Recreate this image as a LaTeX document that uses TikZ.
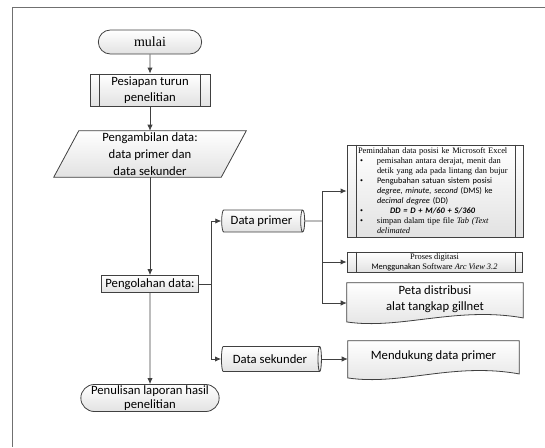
\documentclass[tikz,border=0pt]{standalone}
\usepackage{fontspec}
\setmainfont{Liberation Serif}
\setsansfont{Carlito}
\usetikzlibrary{shapes.geometric,shapes.misc,arrows.meta,backgrounds}

\definecolor{garisabu}{HTML}{404040}
\definecolor{isiabu}{HTML}{E2E2E2}
\definecolor{bingkaiabu}{HTML}{707070}

\newcommand{\sedang}{\sffamily\fontsize{9.5}{12}\selectfont}
\newcommand{\kecil}{\rmfamily\fontsize{6.3}{7.5}\selectfont}
\newcommand{\bul}{\hspace*{1.5pt}\makebox[12.75pt][l]{\textbullet}}
\newcommand{\ind}{\hspace*{14.25pt}}
% bentuk dokumen dengan sisi bawah bergelombang
\newcommand{\dokumen}[1]{%
  \begin{scope}[on background layer]
  \draw[isi] (#1.north west) -- (#1.north east) -- ([yshift=-2pt]#1.south east)
    .. controls ([xshift=-50pt,yshift=7pt]#1.south east)
    and ([xshift=40pt,yshift=-11pt]#1.south west) .. ([yshift=-5pt]#1.south west) -- cycle;
  \end{scope}}
% jajaran genjang untuk input data
\newcommand{\genjang}[1]{%
  \begin{scope}[on background layer]
  \draw[isi] ([xshift=9.4pt]#1.north west) -- ([xshift=9.4pt]#1.north east)
    -- ([xshift=-9.4pt]#1.south east) -- ([xshift=-9.4pt]#1.south west) -- cycle;
  \end{scope}}

\tikzset{
  garis/.style={draw=garisabu, line width=0.6pt},
  isi/.style={garis, top color=white, bottom color=isiabu},
  terminal/.style={isi, rounded rectangle, inner sep=1pt},
  kotak/.style={isi, rectangle, inner sep=1pt, font=\sedang, align=center},
  tabung/.style={isi, cylinder, aspect=0.3, inner sep=1pt, font=\sedang},
  teks/.style={inner sep=1pt, font=\sedang, align=center},
  panah/.style={garis, -{Latex[length=4.5pt,width=4pt]}},
  bingkai/.style={draw=bingkaiabu, line width=0.7pt}
}

\begin{document}
\begin{tikzpicture}[x=0.75pt,y=-0.75pt]
\useasboundingbox (0,0) rectangle (545,447);
\draw[bingkai] (545,7) -- (12,7) -- (12,447);

% alur utama
\node[terminal, minimum width=79.5pt, minimum height=18pt,
  font=\rmfamily\fontsize{10.5}{12}\selectfont] (mulai) at (150,42) {mulai};
\node[kotak, minimum width=90pt, minimum height=24pt] (siap) at (150,90) {Pesiapan turun\\penelitian};
\draw[garis] ([xshift=7.5pt]siap.north west) -- ([xshift=7.5pt]siap.south west);
\draw[garis] ([xshift=-7.5pt]siap.north east) -- ([xshift=-7.5pt]siap.south east);
\node[teks, minimum width=125.25pt, minimum height=34.5pt, font=\sffamily\fontsize{9.5}{12.5}\selectfont]
  (ambil) at (150,154) {Pengambilan data:\\data primer dan\\data sekunder};
\genjang{ambil}
\node[kotak, minimum width=72.75pt, minimum height=12.75pt] (olah) at (150,284) {Pengolahan data:};
\node[terminal, minimum width=105.75pt, minimum height=20.25pt, font=\sffamily\fontsize{9.5}{10}\selectfont,
  align=center] (tulis) at (150,398) {Penulisan laporan hasil\\penelitian};

\draw[panah] (mulai) -- (siap);
\draw[panah] (siap) -- (ambil);
\draw[panah] (ambil) -- (olah);
\draw[panah] (olah) -- (tulis);

% cabang data
\node[tabung, minimum height=62.25pt, minimum width=16.5pt] (primer) at (261.5,221) {Data primer};
\node[tabung, minimum height=75pt, minimum width=18.75pt] (sekunder) at (270,359) {Data sekunder};
\coordinate (cab) at (211,284);
\draw[garis] (olah.east) -- (cab);
\draw[panah] (cab) |- (primer.west);
\draw[panah] (cab) |- (sekunder.west);

% hasil data primer
\node[isi, rectangle, minimum width=132pt, minimum height=69pt, inner xsep=8.25pt, inner ysep=1pt,
  text width=115.5pt, align=left, font=\kecil] (excel) at (435,191)
  {Pemindahan data posisi ke Microsoft Excel\\
   \bul pemisahan antara derajat, menit dan\\
   \ind detik yang ada pada lintang dan bujur\\
   \bul {\sffamily Pengubahan satuan sistem posisi}\\
   \ind {\sffamily\itshape degree, minute, second} {\sffamily(DMS) ke}\\
   \ind {\sffamily\itshape decimal degree}\ {\sffamily (DD)}\\
   \bul\hspace*{9.75pt}{\sffamily\bfseries\itshape DD = D + M/60 + S/360}\\
   \bul simpan dalam tipe file \textit{Tab (Text}\\
   \ind\textit{delimated}};
\draw[garis] ([xshift=7.5pt]excel.north west) -- ([xshift=7.5pt]excel.south west);
\draw[garis] ([xshift=-6pt]excel.north east) -- ([xshift=-6pt]excel.south east);

\node[kotak, minimum width=131.25pt, minimum height=15pt, font=\kecil] (digit) at (434.5,262)
  {Proses digitasi\\{\sffamily Menggunakan} Software \textit{Arc View 3.2}};
\draw[garis] ([xshift=7.5pt]digit.north west) -- ([xshift=7.5pt]digit.south west);
\draw[garis] ([xshift=-5.25pt]digit.north east) -- ([xshift=-5.25pt]digit.south east);

\node[teks, minimum width=132pt, minimum height=24pt] (peta) at (435,299)
  {Peta distribusi\\alat tangkap gillnet};
\dokumen{peta}

\coordinate (cab2) at (322,221);
\draw[garis] (primer.east) -- (cab2);
\draw[panah] (cab2) |- (excel.west);
\draw[panah] (cab2) |- (digit.west);
\draw[panah] (cab2) |- ([yshift=-3pt]peta.west);

% hasil data sekunder
\node[teks, minimum width=128.25pt, minimum height=22.5pt] (dukung) at (433.5,356) {Mendukung data primer};
\dokumen{dukung}
\draw[panah] (sekunder.east) -- (sekunder.east -| dukung.west);
\end{tikzpicture}
\end{document}
